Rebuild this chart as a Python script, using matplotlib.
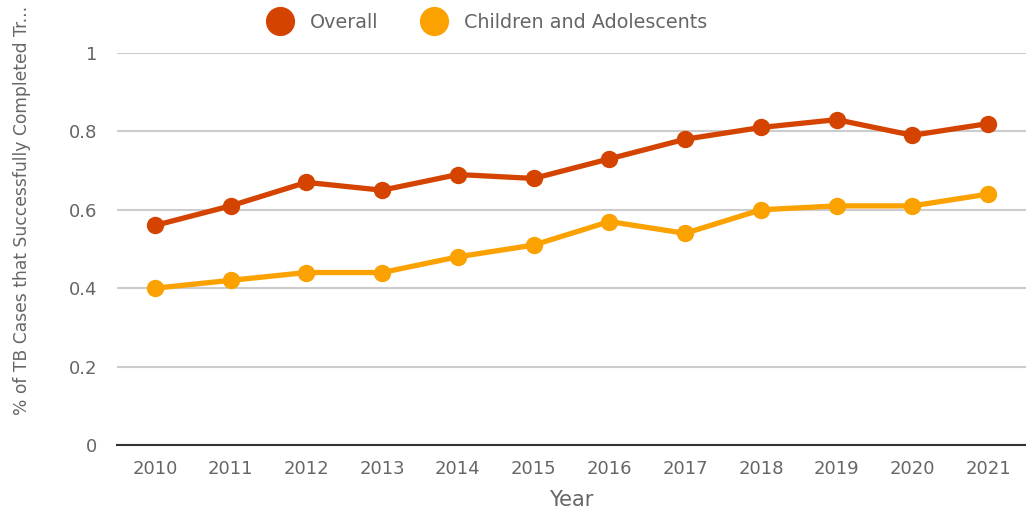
import matplotlib
matplotlib.use("Agg")
import matplotlib.pyplot as plt
from matplotlib.lines import Line2D

years = ["2010", "2011", "2012", "2013", "2014", "2015", "2016", "2017", "2018", "2019", "2020", "2021"]
overall = [0.56, 0.61, 0.67, 0.65, 0.69, 0.68, 0.73, 0.78, 0.81, 0.83, 0.79, 0.82]
children = [0.40, 0.42, 0.44, 0.44, 0.48, 0.51, 0.57, 0.54, 0.60, 0.61, 0.61, 0.64]
yticks = [0, 0.2, 0.4, 0.6, 0.8, 1]
ytick_labels = ["0", "0.2", "0.4", "0.6", "0.8", "1"]

c_overall = "#D44400"
c_child = "#FBA200"
txt = "#666666"

plt.rcParams['font.family'] = ['DejaVu Sans']

W, H = 1026, 516
fig = plt.figure(figsize=(W / 100, H / 100), dpi=100)
ax = fig.add_axes([117 / W, 1 - 445 / H, (1026 - 117) / W, (445 - 53) / H])

x = list(range(len(years)))
ax.plot(x, overall, color=c_overall, lw=3.8, marker="o", ms=11.5, clip_on=False, zorder=3)
ax.plot(x, children, color=c_child, lw=3.8, marker="o", ms=11.5, clip_on=False, zorder=3)

ax.set_xlim(-0.5, len(years) - 0.5)
ax.set_ylim(0, 1)
ax.set_yticks(yticks)
ax.set_yticklabels(ytick_labels)
ax.set_xticks(x)
ax.set_xticklabels(years)
for s in ["top", "right", "left"]:
    ax.spines[s].set_visible(False)
ax.spines["bottom"].set_color("#333333")
ax.spines["bottom"].set_linewidth(1.5)
ax.grid(axis="y", color="#CCCCCC", lw=1.5)
ax.set_axisbelow(True)
ax.tick_params(axis="both", length=0, labelsize=13, colors=txt)
ax.tick_params(axis="x", pad=11)
ax.tick_params(axis="y", pad=14)

fig.text(571 / W, 1 - 500 / H, "Year", ha="center", va="center", fontsize=15, color=txt)
fig.text(22 / W, 1 - 210 / H, "% of TB Cases that Successfully Completed Tr...", rotation=90,
         ha="center", va="center", fontsize=12.3, color=txt)

handles = [Line2D([], [], color=c_overall, marker="o", ls="none", ms=20),
           Line2D([], [], color=c_child, marker="o", ls="none", ms=20)]
fig.legend(handles, ["Overall", "Children and Adolescents"], loc="center left",
           bbox_to_anchor=(250 / W, 1 - 22 / H), ncol=2, frameon=False, fontsize=13.8,
           labelcolor=txt, handletextpad=0.9, columnspacing=2.3, handlelength=1.3)

fig.savefig("out.png", dpi=100)
